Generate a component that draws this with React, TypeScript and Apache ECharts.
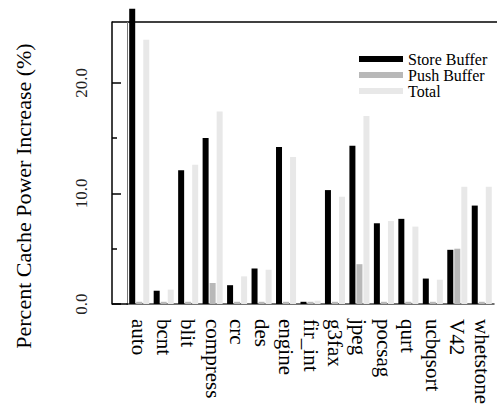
import React, { useEffect, useRef } from "react";
import * as echarts from "echarts";

const categories = ["auto", "bcnt", "blit", "compress", "crc", "des", "engine", "fir_int", "g3fax", "jpeg", "pocsag", "qurt", "ucbqsort", "V42", "whetstone"];
const storeBuffer = [26.7, 1.2, 12.1, 15.0, 1.7, 3.2, 14.2, 0.2, 10.3, 14.3, 7.3, 7.7, 2.3, 4.9, 8.9];
const pushBuffer = [0.2, 0.2, 0.2, 1.9, 0.2, 0.2, 0.2, 0.2, 0.2, 3.6, 0.2, 0.2, 0.2, 5.0, 0.2];
const total = [23.9, 1.3, 12.6, 17.4, 2.5, 3.1, 13.3, 0.3, 9.7, 17.0, 7.5, 7.0, 2.2, 10.6, 10.6];
const majorTicks = [0, 10, 20];
const minorTicks = [5, 15];
const yMax = 25.5;
const yTitle = "Percent Cache Power Increase (%)";

const FONT = "Liberation Serif";
const GENERIC = "serif";

export default function App() {
  const ref = useRef<HTMLDivElement>(null);
  useEffect(() => {
    if (!ref.current) return;
    const chart = echarts.init(ref.current, null, { renderer: "svg" });
    const barCommon = { type: "bar", barWidth: 6, barGap: "17%", clip: false };
    chart.setOption({
      animation: false,
      backgroundColor: "#fff",
      textStyle: { fontFamily: FONT },
      grid: { left: 127, right: 3, top: 22, bottom: 108, outerBoundsMode: "none" },
      legend: {
        orient: "vertical",
        left: 354,
        top: 46,
        itemWidth: 44,
        itemHeight: 6,
        itemGap: 0,
        icon: "rect",
        textStyle: { fontFamily: GENERIC, fontSize: 16, lineHeight: 16, color: "#000" },
        data: ["Store Buffer", "Push Buffer", "Total"],
      },
      xAxis: {
        type: "category",
        data: categories,
        axisLine: { show: true, lineStyle: { color: "#444", width: 1.5 } },
        axisTick: { show: false },
        axisLabel: {
          rotate: -90,
          interval: 0,
          margin: 15,
          fontFamily: FONT,
          fontSize: 21,
          color: "#000",
        },
      },
      yAxis: [
        {
          type: "value",
          position: "left",
          offset: 15,
          min: 0,
          max: yMax,
          splitLine: { show: false },
          axisLine: { show: true, lineStyle: { color: "#000", width: 1.5 } },
          axisTick: { show: true, inside: true, length: 9, customValues: majorTicks, lineStyle: { color: "#000", width: 1.5 } },
          axisLabel: {
            customValues: majorTicks,
            rotate: 90,
            margin: 22,
            fontFamily: GENERIC,
            fontSize: 17,
            color: "#222",
            formatter: (v: number) => v.toFixed(1),
          },
        },
        {
          type: "value",
          position: "left",
          offset: 15,
          min: 0,
          max: yMax,
          splitLine: { show: false },
          axisLine: { show: false },
          axisTick: { show: true, inside: true, length: 5, customValues: minorTicks, lineStyle: { color: "#000", width: 1.5 } },
          axisLabel: { show: false },
        },
      ],
      graphic: [
        { type: "line", shape: { x1: 112, y1: 22, x2: 497, y2: 22 }, style: { stroke: "#000", lineWidth: 1.5 }, z: 10 },
        { type: "line", shape: { x1: 127.5, y1: 22, x2: 127.5, y2: 304 }, style: { stroke: "#777", lineWidth: 1 }, z: 10 },
        { type: "line", shape: { x1: 112, y1: 304, x2: 128, y2: 304 }, style: { stroke: "#000", lineWidth: 1.5 }, z: 10 },
        {
          type: "text",
          x: 23,
          y: 196,
          rotation: Math.PI / 2,
          style: { text: yTitle, fontFamily: FONT, fontSize: 22, fill: "#000", align: "center", verticalAlign: "middle" },
        },
      ],
      series: [
        { ...barCommon, name: "Store Buffer", data: storeBuffer, itemStyle: { color: "#000" } },
        { ...barCommon, name: "Push Buffer", data: pushBuffer, itemStyle: { color: "#b8b8b8" } },
        { ...barCommon, name: "Total", data: total, itemStyle: { color: "#e8e8e8" } },
      ],
    });
    return () => chart.dispose();
  }, []);
  return <div ref={ref} style={{ width: 497, height: 412, position: "absolute", left: 0, top: 0 }} />;
}
